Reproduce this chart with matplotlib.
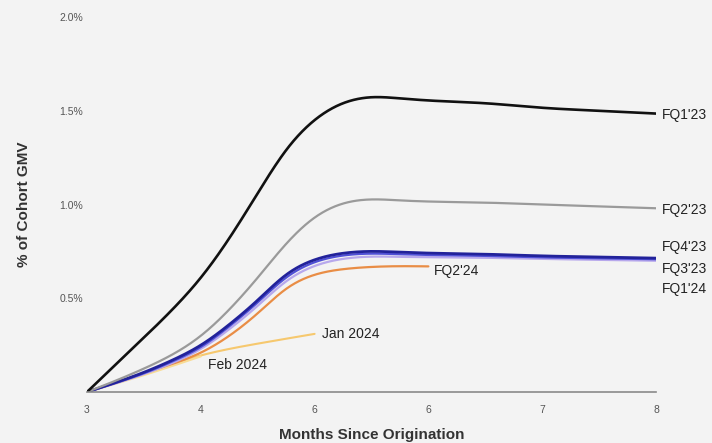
import numpy as np
import matplotlib
matplotlib.use("Agg")
import matplotlib.pyplot as plt

plt.rcParams["font.family"] = ["Liberation Sans", "DejaVu Sans"]

# Cumulative loss curves (% of cohort GMV) by months since origination
months_q = [3.0, 3.25, 3.5, 3.75, 4.0, 4.25, 4.5, 4.75, 5.0, 5.25, 5.5, 5.75, 6.0, 6.5, 7.0, 7.5, 8.0]
fq1_23 = [0.0, 0.145, 0.29, 0.44, 0.61, 0.82, 1.06, 1.29, 1.45, 1.54, 1.572, 1.566, 1.555, 1.54, 1.516, 1.50, 1.485]
fq2_23 = [0.0, 0.06, 0.125, 0.20, 0.30, 0.44, 0.61, 0.79, 0.93, 1.005, 1.027, 1.022, 1.016, 1.01, 1.00, 0.99, 0.98]
fq4_23 = [0.0, 0.05, 0.105, 0.17, 0.25, 0.36, 0.49, 0.625, 0.705, 0.74, 0.75, 0.746, 0.741, 0.735, 0.726, 0.72, 0.714]
fq3_23 = [0.0, 0.048, 0.10, 0.163, 0.24, 0.35, 0.478, 0.61, 0.692, 0.728, 0.738, 0.735, 0.731, 0.726, 0.718, 0.713, 0.708]
fq1_24 = [0.0, 0.046, 0.096, 0.155, 0.23, 0.335, 0.46, 0.59, 0.672, 0.71, 0.722, 0.721, 0.719, 0.716, 0.71, 0.705, 0.70]

months_fq2_24 = [3.0, 3.25, 3.5, 3.75, 4.0, 4.25, 4.5, 4.75, 5.0, 5.25, 5.5, 5.75, 6.0]
fq2_24 = [0.0, 0.05, 0.10, 0.15, 0.21, 0.30, 0.42, 0.55, 0.625, 0.655, 0.667, 0.671, 0.67]

months_jan = [3.0, 3.5, 4.0, 4.5, 5.0]
jan_2024 = [0.0, 0.10, 0.195, 0.258, 0.31]

months_feb = [3.0, 3.5, 4.0]
feb_2024 = [0.0, 0.09, 0.19]

x_ticks = [3, 4, 5, 6, 7, 8]
x_tick_labels = ["3", "4", "6", "6", "7", "8"]
y_ticks = [0.5, 1.0, 1.5, 2.0]
y_tick_labels = ["0.5%", "1.0%", "1.5%", "2.0%"]


def smooth(x, y, n=400):
    """Natural cubic spline through the points, sampled densely for drawing."""
    x = np.asarray(x, float)
    y = np.asarray(y, float)
    k = len(x)
    h = np.diff(x)
    A = np.zeros((k, k))
    b = np.zeros(k)
    A[0, 0] = A[-1, -1] = 1.0
    for i in range(1, k - 1):
        A[i, i - 1] = h[i - 1]
        A[i, i] = 2 * (h[i - 1] + h[i])
        A[i, i + 1] = h[i]
        b[i] = 6 * ((y[i + 1] - y[i]) / h[i] - (y[i] - y[i - 1]) / h[i - 1])
    M = np.linalg.solve(A, b)
    xs = np.linspace(x[0], x[-1], n)
    idx = np.clip(np.searchsorted(x, xs) - 1, 0, k - 2)
    x0, x1 = x[idx], x[idx + 1]
    hi = h[idx]
    ys = (M[idx] * (x1 - xs) ** 3 / (6 * hi) + M[idx + 1] * (xs - x0) ** 3 / (6 * hi)
          + (y[idx] / hi - M[idx] * hi / 6) * (x1 - xs)
          + (y[idx + 1] / hi - M[idx + 1] * hi / 6) * (xs - x0))
    return xs, ys


bg = "#f3f3f3"
fig = plt.figure(figsize=(7.12, 4.43), dpi=100, facecolor=bg)
ax = fig.add_axes([0.1222, 0.1151, 0.7991, 0.8465], facecolor=bg)

series = [
    (months_jan, jan_2024, "#f6c86e", 1.5),
    (months_feb, feb_2024, "#f8dc95", 1.5),
    (months_fq2_24, fq2_24, "#e98d45", 1.6),
    (months_q, fq1_24, "#b7a8ec", 1.6),
    (months_q, fq3_23, "#5050d6", 1.6),
    (months_q, fq4_23, "#22229a", 2.0),
    (months_q, fq2_23, "#9a9a9a", 1.6),
    (months_q, fq1_23, "#111111", 1.9),
]
for xs, ys, color, lw in series:
    sx, sy = smooth(xs, ys)
    ax.plot(sx, sy, color=color, lw=lw, solid_capstyle="round")

label_kw = dict(textcoords="offset points", fontsize=10, color="#222222", va="center", ha="left")
ax.annotate("FQ1'23", (8, fq1_23[-1]), xytext=(4, -1), **label_kw)
ax.annotate("FQ2'23", (8, fq2_23[-1]), xytext=(4, -1), **label_kw)
ax.annotate("FQ4'23", (8, fq4_23[-1]), xytext=(4, 8), **label_kw)
ax.annotate("FQ3'23", (8, fq4_23[-1]), xytext=(4, -7.5), **label_kw)
ax.annotate("FQ1'24", (8, fq4_23[-1]), xytext=(4, -22.5), **label_kw)
ax.annotate("FQ2'24", (months_fq2_24[-1], fq2_24[-1]), xytext=(4, -3), **label_kw)
ax.annotate("Jan 2024", (months_jan[-1], jan_2024[-1]), xytext=(5, 0), **label_kw)
ax.annotate("Feb 2024", (months_feb[-1], feb_2024[-1]), xytext=(5, -6.5), **label_kw)

ax.set_xlim(3, 8)
ax.set_ylim(0, 2.0)
ax.set_xticks(x_ticks)
ax.set_xticklabels(x_tick_labels)
ax.set_yticks(y_ticks)
ax.set_yticklabels(y_tick_labels)
ax.tick_params(axis="both", length=0, labelsize=7.5, labelcolor="#555555")
ax.tick_params(axis="x", pad=9)
ax.tick_params(axis="y", pad=3)

for side in ["top", "right", "left"]:
    ax.spines[side].set_visible(False)
ax.spines["bottom"].set_color("#8a8a8a")
ax.spines["bottom"].set_linewidth(1.2)

ax.set_xlabel("Months Since Origination", fontsize=11, fontweight="bold", color="#333333", labelpad=10)
ax.set_ylabel("% of Cohort GMV", fontsize=11, fontweight="bold", color="#333333", labelpad=20)

fig.savefig("out.png", dpi=100, facecolor=bg)
